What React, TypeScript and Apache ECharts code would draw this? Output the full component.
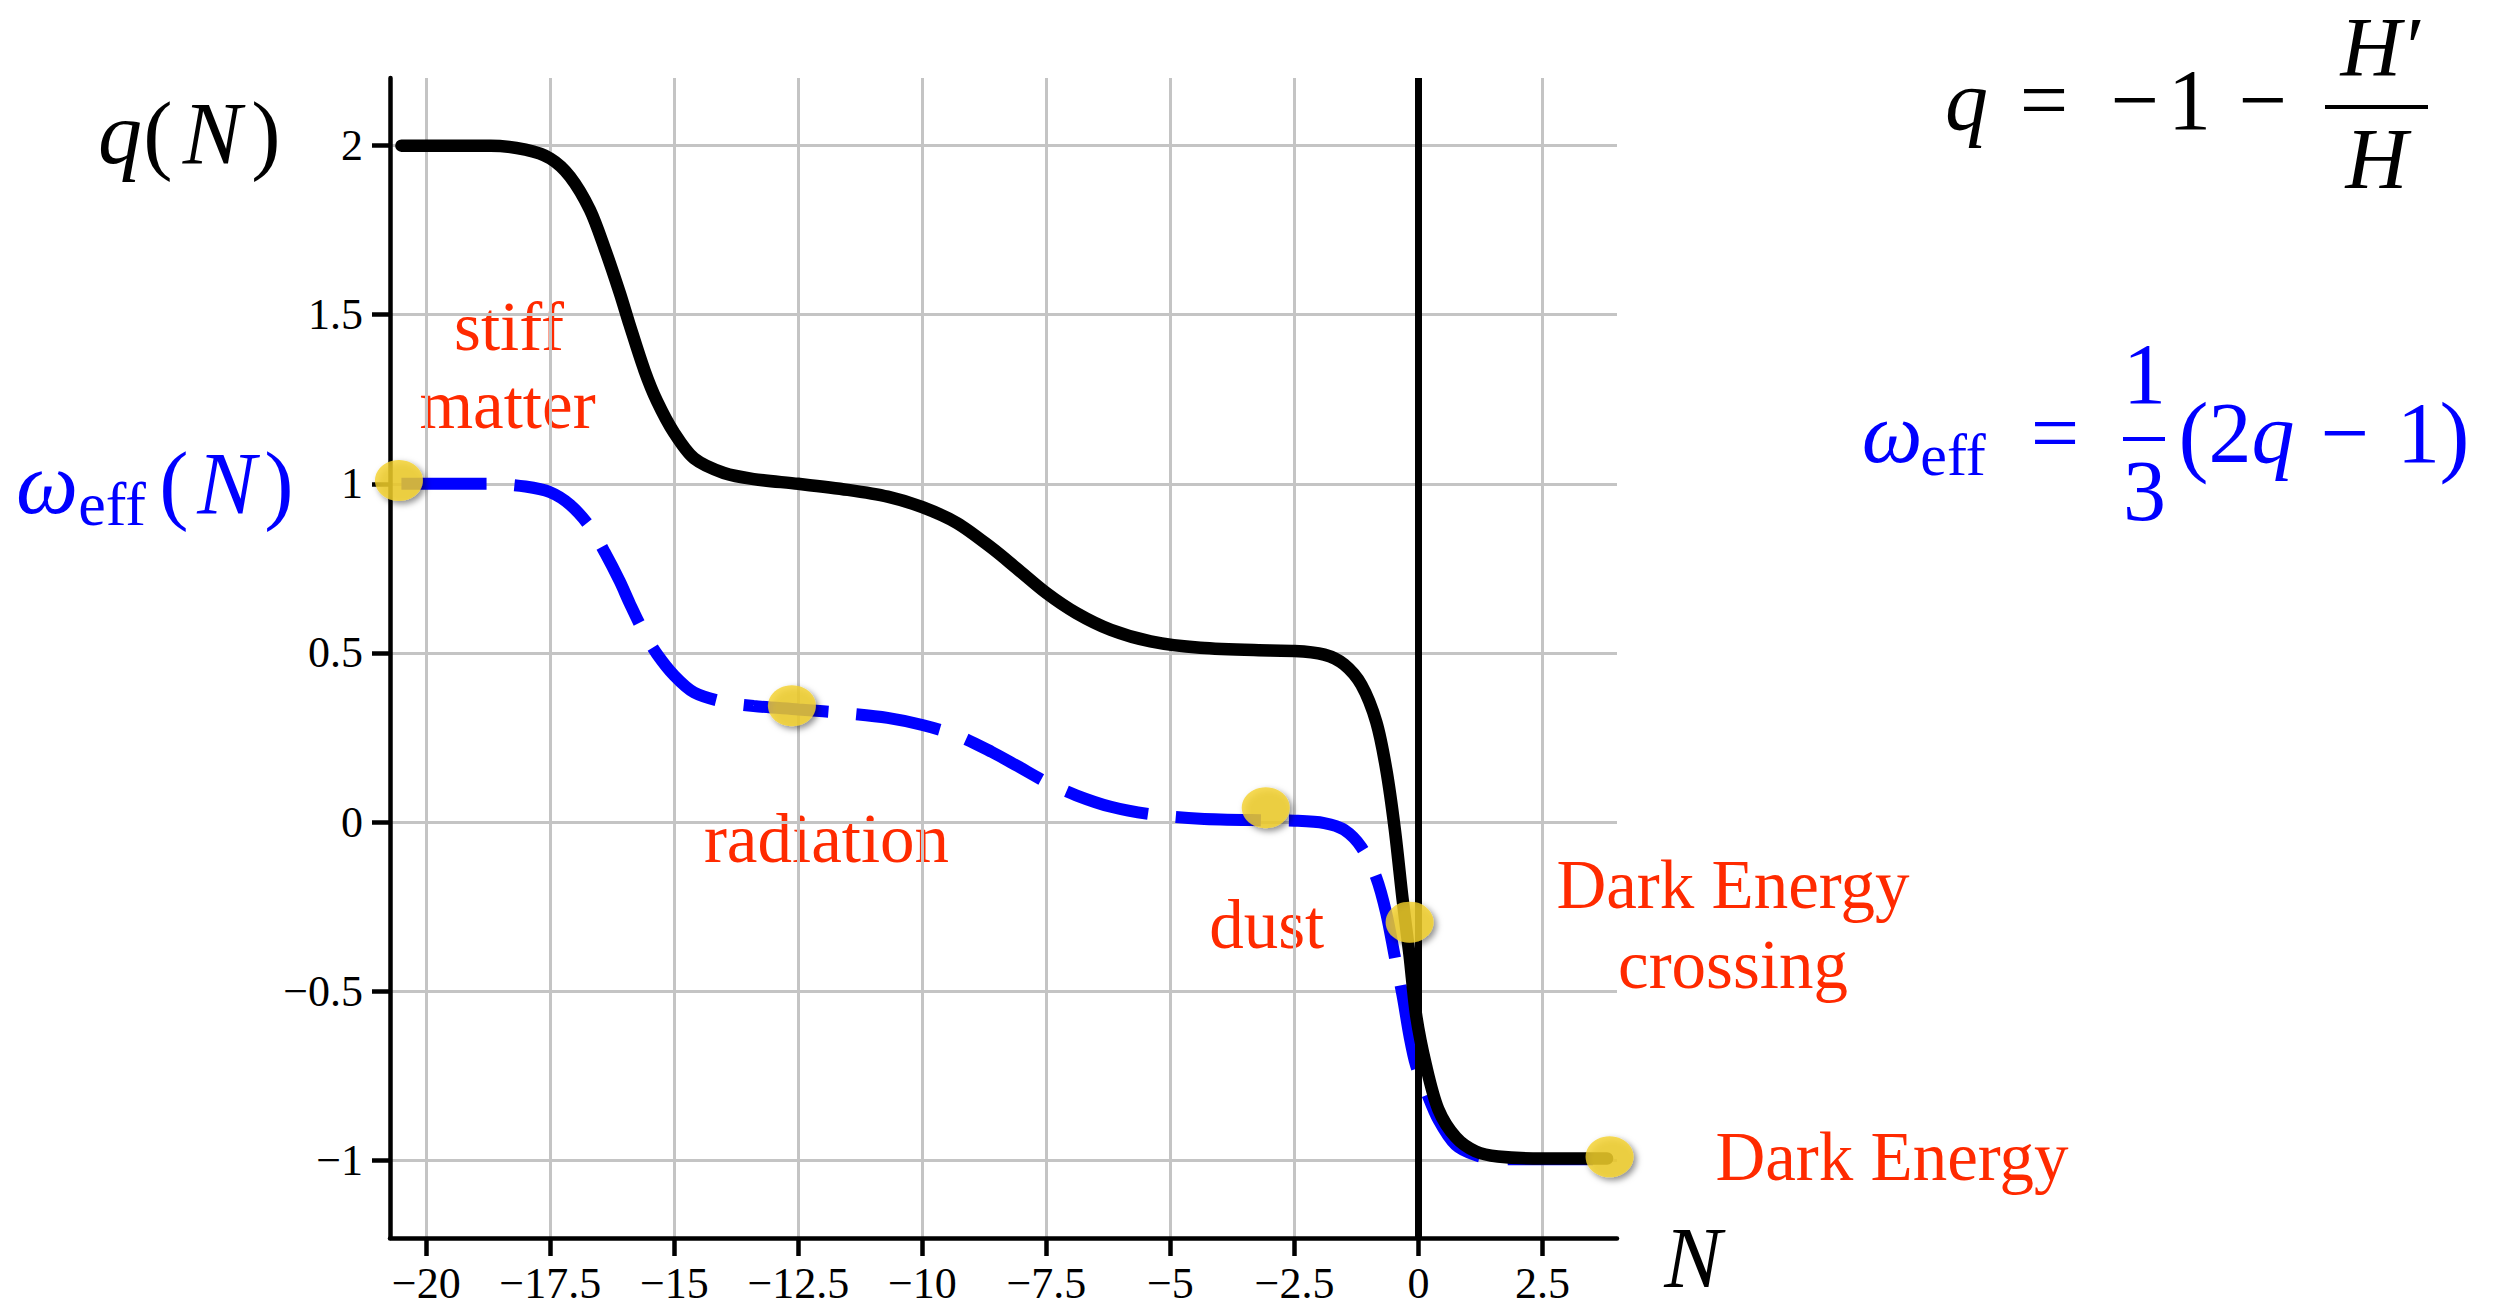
import React, { useEffect, useRef } from "react";
import * as echarts from "echarts";

// e-folds N (shared sample positions for both curves)
const N_VALUES = [
  -20.5, -19.5, -18.7, -18.0, -17.5, -17.1, -16.7, -16.4, -16.1, -15.9, -15.6, -15.35,
  -15.0, -14.6, -14.0, -13.4, -12.5, -11.5, -10.7, -10.0, -9.3, -8.6, -8.1, -7.5, -6.9,
  -6.2, -5.4, -4.4, -3.0, -2.5, -1.9, -1.5, -1.15, -0.85, -0.65, -0.48, -0.32, -0.18,
  -0.05, 0.15, 0.4, 0.75, 1.15, 1.6, 2.5, 3.8,
];

// deceleration parameter q(N) (black)
const Q_VALUES = [
  2.0, 2.0, 2.0, 1.988, 1.962, 1.908, 1.81, 1.695, 1.565, 1.47, 1.335, 1.245,
  1.15, 1.075, 1.032, 1.014, 1.0, 0.982, 0.962, 0.931, 0.884, 0.81, 0.75, 0.677, 0.618,
  0.568, 0.534, 0.515, 0.507, 0.506, 0.495, 0.466, 0.405, 0.295, 0.155, -0.02, -0.23, -0.395,
  -0.57, -0.72, -0.85, -0.932, -0.974, -0.989, -0.995, -0.995,
];

// effective equation of state w_eff(N) (blue dashed)
const W_VALUES = [
  1.0, 1.0, 1.0, 0.992, 0.975, 0.938, 0.873, 0.797, 0.712, 0.647, 0.557, 0.497,
  0.433, 0.383, 0.355, 0.343, 0.333, 0.321, 0.308, 0.287, 0.256, 0.207, 0.167, 0.118, 0.079,
  0.045, 0.023, 0.01, 0.005, 0.004, -0.003, -0.023, -0.075, -0.165, -0.27, -0.397, -0.515, -0.635,
  -0.72, -0.795, -0.88, -0.955, -0.985, -0.997, -0.997, -0.997,
];

// highlighted epochs (yellow dots)
const DOT_N = [-20.55, -12.63, -3.08, -0.18, 3.85];
const DOT_VALUES = [1.01, 0.344, 0.042, -0.296, -0.99];

const X_TICKS = [-20, -17.5, -15, -12.5, -10, -7.5, -5, -2.5, 0, 2.5];
const Y_TICKS = [-1, -0.5, 0, 0.5, 1, 1.5, 2];

const PHASE_LABELS = ["stiff", "matter", "radiation", "dust", "Dark Energy", "crossing", "Dark Energy"];
// [centre x, baseline y] in pixels for each phase label
const PHASE_LAYOUT: [number, number][] = [
  [509, 350], [507.5, 428], [826.5, 862], [1266.7, 948], [1733, 908], [1733, 988], [1892, 1180],
];

const SERIF = "'Liberation Serif', 'Times New Roman', serif";
const RED = "#ff2a00";
const BLUE = "#0000ff";

const fmt = (v: number) => (v < 0 ? "\u2212" + String(-v) : String(v));

function txt(text: string, cx: number, baseline: number, size: number, color: string, italic = false) {
  return {
    type: "text",
    x: cx,
    y: baseline - 0.3375 * size,
    silent: true,
    style: {
      text,
      fill: color,
      fontSize: size,
      fontFamily: SERIF,
      fontStyle: italic ? "italic" : "normal",
      lineHeight: Math.round(size * 0.8),
      align: "center",
      verticalAlign: "middle",
      textAlign: "center",
      textVerticalAlign: "middle",
    },
  };
}

function bar(x1: number, x2: number, y: number, color: string) {
  return {
    type: "line",
    silent: true,
    shape: { x1, y1: y, x2, y2: y },
    style: { stroke: color, lineWidth: 4 },
  };
}

export default function App() {
  const ref = useRef<HTMLDivElement>(null);

  useEffect(() => {
    if (!ref.current) return;
    const chart = echarts.init(ref.current, undefined, { renderer: "svg" });

    const graphics: any[] = [
      // q(N)
      txt("q", 120, 163, 88, "#000", true),
      txt("(", 158, 163, 88, "#000"),
      txt("N", 212, 163, 88, "#000", true),
      txt(")", 266, 163, 88, "#000"),
      // w_eff(N)
      txt("\u03c9", 47, 513, 88, BLUE, true),
      txt("eff", 112, 525, 62, BLUE),
      txt("(", 174, 513, 88, BLUE),
      txt("N", 226.5, 513, 88, BLUE, true),
      txt(")", 279, 513, 88, BLUE),
      // N axis name
      txt("N", 1693, 1287, 86, "#000", true),
      // q = -1 - H'/H
      txt("q", 1966.5, 129, 86, "#000", true),
      txt("=", 2044, 129, 86, "#000"),
      txt("\u2212", 2135, 129, 86, "#000"),
      txt("1", 2189.5, 129, 86, "#000"),
      txt("\u2212", 2263, 129, 86, "#000"),
      bar(2325, 2428, 107, "#000"),
      txt("H\u2032", 2380, 76, 84, "#000", true),
      txt("H", 2376.5, 188, 86, "#000", true),
      // w_eff = 1/3 (2q - 1)
      txt("\u03c9", 1892, 462, 86, BLUE, true),
      txt("eff", 1953, 475, 60, BLUE),
      txt("=", 2055, 462, 86, BLUE),
      txt("1", 2144.5, 403, 86, BLUE),
      bar(2123, 2165, 439, BLUE),
      txt("3", 2144.5, 520, 86, BLUE),
      txt("(", 2193.5, 465, 90, BLUE),
      txt("2", 2230, 462, 86, BLUE),
      txt("q", 2273, 462, 86, BLUE, true),
      txt("\u2212", 2345, 462, 86, BLUE),
      txt("1", 2418.5, 462, 86, BLUE),
      txt(")", 2454.5, 465, 90, BLUE),
    ];
    PHASE_LABELS.forEach((label, i) => {
      graphics.push(txt(label, PHASE_LAYOUT[i][0], PHASE_LAYOUT[i][1], 69, RED));
    });

    const option: any = {
      animation: false,
      backgroundColor: "#ffffff",
      grid: { left: 390, right: 883, top: 78, bottom: 68, containLabel: false, outerBoundsMode: "none" },
      xAxis: {
        type: "value",
        min: -20.73,
        max: 4.0,
        axisLine: { show: true, onZero: false, lineStyle: { color: "#000", width: 4.5 } },
        axisTick: { show: true, customValues: X_TICKS, length: 18, lineStyle: { color: "#000", width: 4.5 } },
        axisLabel: {
          customValues: X_TICKS,
          formatter: fmt,
          color: "#000",
          fontFamily: SERIF,
          fontSize: 44,
          lineHeight: 34,
          margin: 28,
        },
        splitLine: { show: true, lineStyle: { color: "#c4c4c4", width: 3 } },
      },
      yAxis: {
        type: "value",
        min: -1.23,
        max: 2.2,
        axisLine: { show: true, onZero: false, lineStyle: { color: "#000", width: 4.5 } },
        axisTick: { show: true, customValues: Y_TICKS, length: 18, lineStyle: { color: "#000", width: 4.5 } },
        axisLabel: {
          customValues: Y_TICKS,
          formatter: fmt,
          color: "#000",
          fontFamily: SERIF,
          fontSize: 44,
          margin: 27,
        },
        splitLine: { show: true, lineStyle: { color: "#c4c4c4", width: 3 } },
      },
      series: [
        {
          name: "w_eff",
          type: "line",
          data: N_VALUES.map((n, i) => [n, W_VALUES[i]]),
          showSymbol: false,
          smooth: 0.3,
          lineStyle: { color: BLUE, width: 12, type: [85, 28], cap: "butt" },
          z: 3,
        },
        {
          name: "q",
          type: "line",
          data: N_VALUES.map((n, i) => [n, Q_VALUES[i]]),
          showSymbol: false,
          smooth: 0.3,
          lineStyle: { color: "#000", width: 12.5, cap: "round", join: "round" },
          markLine: {
            silent: true,
            symbol: ["none", "none"],
            label: { show: false },
            lineStyle: { color: "#000", width: 7, type: "solid" },
            data: [{ xAxis: 0 }],
          },
          z: 4,
        },
        {
          name: "epochs",
          type: "scatter",
          data: DOT_N.map((n, i) => [n, DOT_VALUES[i]]),
          symbol: "circle",
          symbolSize: [48, 41],
          itemStyle: {
            color: "#f4d12b",
            shadowBlur: 6,
            shadowColor: "rgba(0,0,0,0.55)",
            shadowOffsetX: 3,
            shadowOffsetY: 3,
          },
          z: 5,
        },
      ],
      graphic: graphics,
    };

    chart.setOption(option);
    return () => chart.dispose();
  }, []);

  return (
    <div
      ref={ref}
      style={{ position: "absolute", left: 0, top: 0, width: 2500, height: 1306, background: "#fff" }}
    />
  );
}
